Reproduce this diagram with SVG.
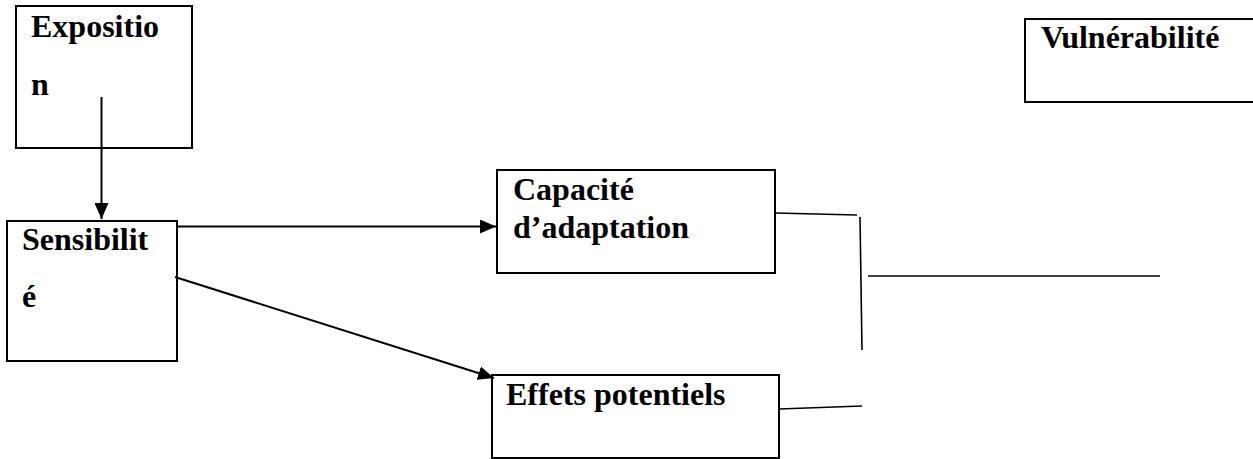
<svg xmlns="http://www.w3.org/2000/svg" width="1253" height="459" viewBox="0 0 1253 459">
  <style>
    .box { fill: #ffffff; stroke: #000000; stroke-width: 2; }
    .lbl { font-family: 'Times New Roman', 'Liberation Serif', 'DejaVu Serif', serif; font-weight: bold; font-size: 32px; fill: #000000; }
    .link { stroke: #000000; stroke-width: 2; fill: none; }
    .thin { stroke: #000000; stroke-width: 1.6; fill: none; }
  </style>
  <defs>
    <marker id="arrow" viewBox="0 0 16 14" refX="16" refY="7" markerWidth="16" markerHeight="14" markerUnits="userSpaceOnUse" orient="auto">
      <path d="M0,0 L16,7 L0,14 Z" fill="#000000"/>
    </marker>
  </defs>
  <rect width="1253" height="459" fill="#ffffff"/>

  <g id="exposition">
    <rect class="box" x="16" y="6" width="176" height="142"/>
    <text class="lbl" x="31" y="37">Expositio</text>
    <text class="lbl" x="31" y="95">n</text>
  </g>

  <g id="sensibilite">
    <rect class="box" x="7" y="221" width="170" height="140"/>
    <text class="lbl" x="22" y="250">Sensibilit</text>
    <text class="lbl" x="22" y="307">é</text>
  </g>

  <g id="capacite">
    <rect class="box" x="497" y="170" width="278" height="103"/>
    <text class="lbl" x="513" y="200">Capacité</text>
    <text class="lbl" x="513" y="238">d’adaptation</text>
  </g>

  <g id="effets">
    <rect class="box" x="492" y="375" width="287" height="83"/>
    <text class="lbl" x="506" y="405">Effets potentiels</text>
  </g>

  <g id="vulnerabilite">
    <rect class="box" x="1025" y="19" width="240" height="83"/>
    <text class="lbl" x="1041" y="48">Vulnérabilité</text>
  </g>

  <g id="connectors">
    <line class="link" x1="101.5" y1="97" x2="101.5" y2="219" marker-end="url(#arrow)"/>
    <line class="link" x1="177" y1="226.5" x2="496" y2="226.5" marker-end="url(#arrow)"/>
    <line class="link" x1="175" y1="277" x2="494" y2="378" marker-end="url(#arrow)"/>
    <line class="thin" x1="775" y1="213" x2="857" y2="215"/>
    <line class="thin" x1="860" y1="217" x2="862" y2="350"/>
    <line class="thin" x1="868" y1="276" x2="1160" y2="276"/>
    <line class="thin" x1="779" y1="409" x2="862" y2="406"/>
  </g>
</svg>
